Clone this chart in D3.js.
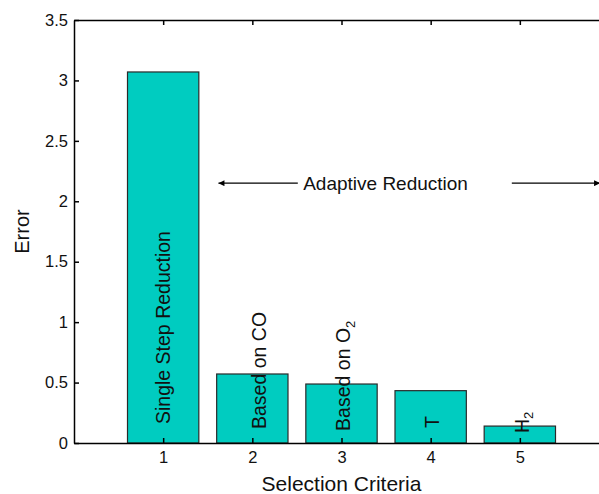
<!DOCTYPE html>
<html>
<head>
<meta charset="utf-8">
<script src="https://cdn.jsdelivr.net/npm/d3@7"></script>
<style>
  body { margin: 0; background: #fff; }
  svg { display: block; font-family: "Liberation Sans", Arial, sans-serif; }
  .axis path, .axis line { stroke: #000; stroke-width: 1.5; }
  .axis text { font-size: 16.5px; fill: #111; }
</style>
</head>
<body>
<svg id="chart" width="599" height="494"></svg>
<script>
// bar data
const criteria = [1, 2, 3, 4, 5]
const errors = [3.07, 0.571, 0.488, 0.433, 0.14]
const yTicks = [0, 0.5, 1, 1.5, 2, 2.5, 3, 3.5]

// labels inside bars (main text, subscript, x and y position in data units)
const barLabels = ["Single Step Reduction", "Based on CO", "Based on O", "T", "H"]
const barSubs = ["", "", "2", "", "2"]
const labelX = [1.0, 2.07, 3.02, 4.02, 5.02]
const labelY = [0.157, 0.116, 0.1, 0.124, 0.083]

// "Adaptive Reduction" annotation, data units
const arrowY = 2.15
const leftArrow = [2.51, 1.62]
const rightArrow = [4.91, 5.9]
const annotX = 2.57

const margin = { top: 20, left: 74 }
const plotW = 535
const plotH = 423

const x = d3.scaleLinear().domain([0, 6]).range([margin.left, margin.left + plotW])
const y = d3.scaleLinear().domain([0, 3.5]).range([margin.top + plotH, margin.top])
const barW = x(0.8) - x(0)

const svg = d3.select("#chart")

svg.append("defs").append("marker")
    .attr("id", "head")
    .attr("viewBox", "0 0 10 10")
    .attr("refX", 10)
    .attr("refY", 5)
    .attr("markerWidth", 9)
    .attr("markerHeight", 6)
    .attr("markerUnits", "userSpaceOnUse")
    .attr("orient", "auto")
    .append("path")
    .attr("d", "M0,0 L10,5 L0,10 z")
    .attr("fill", "#000")

// bars
svg.selectAll("rect.bar")
    .data(criteria)
    .enter()
    .append("rect")
    .attr("class", "bar")
    .attr("x", (d, i) => x(d) - barW / 2)
    .attr("y", (d, i) => y(errors[i]))
    .attr("width", barW)
    .attr("height", (d, i) => y(0) - y(errors[i]))
    .attr("fill", "#00ccc0")
    .attr("stroke", "#2a2a2a")
    .attr("stroke-width", 1.2)

// rotated labels
const lab = svg.selectAll("text.barlabel")
    .data(barLabels)
    .enter()
    .append("text")
    .attr("class", "barlabel")
    .attr("transform", (d, i) => `translate(${x(labelX[i])}, ${y(labelY[i])}) rotate(-90)`)
    .attr("dy", "0.36em")
    .style("font-size", "19.5px")
    .style("fill", "#111")
lab.append("tspan").text(d => d)
lab.append("tspan")
    .attr("dy", "0.35em")
    .style("font-size", "13px")
    .text((d, i) => barSubs[i])

// axes
svg.append("g")
    .attr("class", "axis")
    .attr("transform", `translate(${margin.left}, 0)`)
    .call(d3.axisLeft(y).tickValues(yTicks).tickFormat(d3.format("")).tickSizeInner(-5).tickSizeOuter(0).tickPadding(6))

svg.append("g")
    .attr("class", "axis")
    .attr("transform", `translate(0, ${margin.top + plotH})`)
    .call(d3.axisBottom(x).tickValues(criteria).tickFormat(d3.format("d")).tickSizeInner(-5).tickSizeOuter(0).tickPadding(8))

svg.append("g")
    .attr("class", "axis")
    .attr("transform", `translate(0, ${margin.top})`)
    .call(d3.axisTop(x).tickValues(criteria).tickFormat("").tickSizeInner(-5).tickSizeOuter(0))

// arrows and annotation
svg.selectAll("line.arrow")
    .data([leftArrow, rightArrow])
    .enter()
    .append("line")
    .attr("class", "arrow")
    .attr("x1", d => x(d[0]))
    .attr("x2", d => x(d[1]))
    .attr("y1", y(arrowY))
    .attr("y2", y(arrowY))
    .attr("stroke", "#000")
    .attr("stroke-width", 1.2)
    .attr("marker-end", "url(#head)")

svg.append("text")
    .attr("x", x(annotX))
    .attr("y", y(arrowY))
    .attr("dy", "0.36em")
    .style("font-size", "19px")
    .style("fill", "#111")
    .text("Adaptive Reduction")

// axis titles
svg.append("text")
    .attr("transform", `translate(22, ${y(1.75)}) rotate(-90)`)
    .attr("dy", "0.36em")
    .style("text-anchor", "middle")
    .style("font-size", "20px")
    .style("fill", "#111")
    .text("Error")

svg.append("text")
    .attr("x", margin.left + plotW / 2)
    .attr("y", 491)
    .style("text-anchor", "middle")
    .style("font-size", "21px")
    .style("fill", "#111")
    .text("Selection Criteria")
</script>
</body>
</html>
